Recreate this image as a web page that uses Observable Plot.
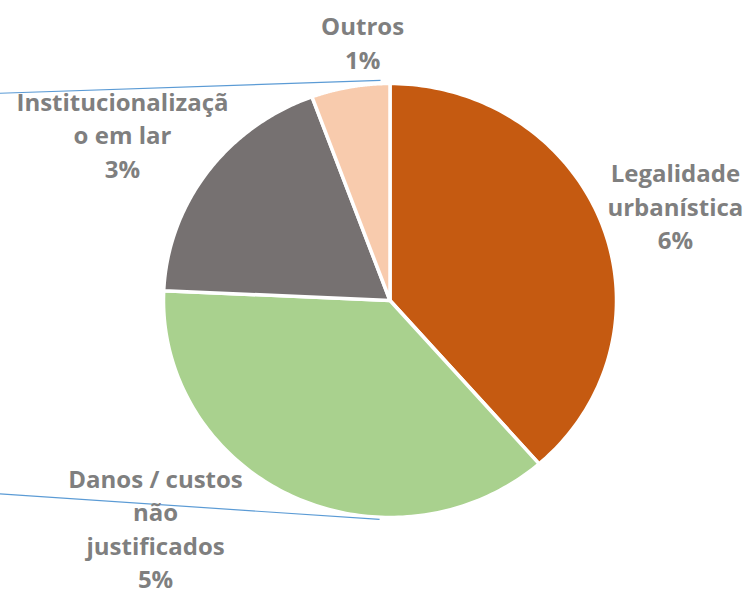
<!DOCTYPE html>
<html><head><meta charset="utf-8">
<script src="https://cdn.jsdelivr.net/npm/d3@7"></script>
<script src="https://cdn.jsdelivr.net/npm/@observablehq/plot@0.6"></script>
<style>body{margin:0;background:#fff;overflow:hidden}</style>
</head><body><div id="chart"></div>
<script>
// Data
const categories = ["Legalidade urbanística", "Danos / custos não justificados", "Institucionalização em lar", "Outros"];
const sliceValues = [38.6, 37.2, 18.7, 5.6];
const labelNames = ["Legalidade\nurbanística", "Danos / custos\nnão\njustificados", "Institucionalizaçã\no em lar", "Outros"];
const labelPercents = ["6%", "5%", "3%", "1%"];
const sliceColors = ["#C55A11", "#A9D18E", "#767171", "#F8CBAD"];

// Layout (data space of the pie, radius = 1)
const labelX = [1.26, -1.035, -1.181, -0.121];
const labelY = [0.44, -1.045, 0.77, 1.195];
const leaderX1 = [-1.75, -1.75];
const leaderY1 = [0.954, -0.889];
const leaderX2 = [-0.042, -0.046];
const leaderY2 = [1.014, -1.009];

const arcs = d3.pie().sort(null).startAngle(0).endAngle(2 * Math.PI)(sliceValues);
const points = [];
arcs.forEach((a, i) => {
  const cat = categories[i];
  points.push({cat, x: 0, y: 0});
  const n = 120;
  for (let k = 0; k <= n; k++) {
    const t = a.startAngle + (a.endAngle - a.startAngle) * k / n;
    points.push({cat, x: Math.sin(t), y: Math.cos(t)});
  }
  points.push({cat, x: 0, y: 0});
});

const labels = categories.map((c, i) => ({
  x: labelX[i], y: labelY[i], text: labelNames[i] + "\n" + labelPercents[i]
}));
const leaders = leaderX1.map((_, i) => ({x1: leaderX1[i], y1: leaderY1[i], x2: leaderX2[i], y2: leaderY2[i]}));

const chart = Plot.plot({
  width: 747, height: 592, margin: 0,
  style: {background: "#fff"},
  x: {domain: [-1, 1], range: [163, 616], axis: null},
  y: {domain: [-1, 1], range: [517, 83], axis: null},
  color: {domain: categories, range: sliceColors},
  marks: [
    Plot.line(points, {x: "x", y: "y", z: "cat", fill: "cat", stroke: "white", strokeWidth: 3.5, strokeLinejoin: "round", curve: "linear"}),
    Plot.link(leaders, {x1: "x1", y1: "y1", x2: "x2", y2: "y2", stroke: "#5B9BD5", strokeWidth: 1.2}),
    Plot.text(labels, {x: "x", y: "y", text: "text", fill: "#7F7F7F", fontSize: 24, fontWeight: "bold",
      fontFamily: "Open Sans", lineHeight: 1.4, textAnchor: "middle", lineAnchor: "middle"})
  ]
});
document.getElementById("chart").append(chart);
</script>
</body></html>
